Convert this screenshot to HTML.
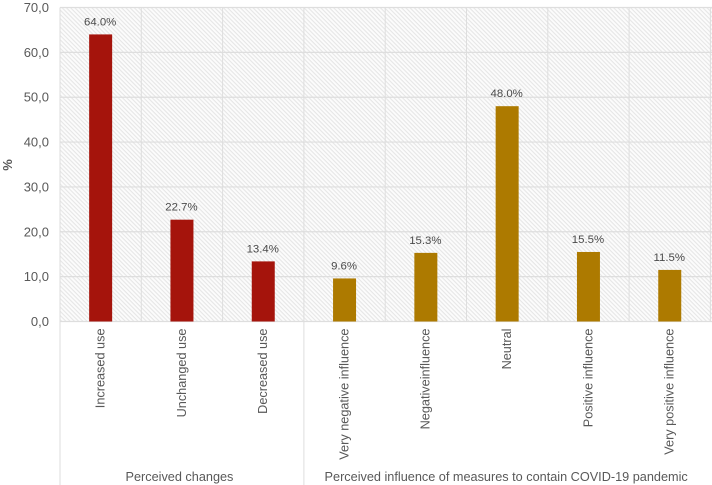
<!DOCTYPE html>
<html>
<head>
<meta charset="utf-8">
<style>
html,body{margin:0;padding:0;background:#fff;width:712px;height:485px;overflow:hidden}
svg{display:block}
text{font-family:"Liberation Sans",sans-serif;fill:#595959}
</style>
</head>
<body>
<svg id="chart" width="712" height="485" viewBox="0 0 712 485" xmlns="http://www.w3.org/2000/svg">
<defs>
<pattern id="hatch" patternUnits="userSpaceOnUse" width="3" height="3" patternTransform="rotate(45)">
<rect width="3" height="3" fill="#fcfcfc"/>
<rect width="3" height="1.1" fill="#e6e6e6"/>
</pattern>
</defs>
<rect x="60" y="7.5" width="652" height="314" fill="url(#hatch)"/>
<g id="grid"></g>
<g id="bars"></g>
<g id="labels"></g>
<g id="yticks"></g>
<g id="xticks"></g>
<g id="groups"></g>
<text transform="translate(12,165) rotate(-90)" text-anchor="middle" font-size="13" font-weight="bold">%</text>
</svg>
<script>
const categories = ["Increased use","Unchanged use","Decreased use","Very negative influence","Negativeinfluence","Neutral","Positive influence","Very positive influence"];
const values = [64.0,22.7,13.4,9.6,15.3,48.0,15.5,11.5];
const valueLabels = ["64.0%","22.7%","13.4%","9.6%","15.3%","48.0%","15.5%","11.5%"];
const groupOfCategory = [0,0,0,1,1,1,1,1];
const groupNames = ["Perceived changes","Perceived influence of measures to contain COVID-19 pandemic"];
const groupColors = ["#a5140c","#ad7a00"];
const yTicks = [0,10,20,30,40,50,60,70];
const yTickLabels = ["0,0","10,0","20,0","30,0","40,0","50,0","60,0","70,0"];

const NS = "http://www.w3.org/2000/svg";
const plotLeft = 60, plotRight = 710.4, plotTop = 7.5, plotBottom = 321.5, yMax = 70;
const bandW = (plotRight - plotLeft) / categories.length;
const barW = 23;
const xBand = i => plotLeft + i * bandW;
const xCenter = i => xBand(i) + bandW / 2;
const yScale = v => plotBottom - (v / yMax) * (plotBottom - plotTop);
function mk(tag, parent, attrs, text) {
  const el = document.createElementNS(NS, tag);
  for (const k in attrs) el.setAttribute(k, attrs[k]);
  if (text !== undefined) el.textContent = text;
  parent.appendChild(el);
  return el;
}
const grid = document.getElementById("grid");
const gridColor = "#dedede";
yTicks.forEach(t => {
  const line = mk("line", grid, {x1: plotLeft, x2: 712, y1: yScale(t), y2: yScale(t), stroke: gridColor, "stroke-width": 1.2});
  
  
});
for (let i = 0; i <= categories.length; i++) {
  const groupEdge = i === 0 || (i < categories.length && groupOfCategory[i] !== groupOfCategory[i - 1]);
  const line = mk("line", grid, {x1: xBand(i), x2: xBand(i), y1: plotTop, y2: groupEdge ? 485 : plotBottom, stroke: gridColor, "stroke-width": 1});
  
  
}
const bars = document.getElementById("bars");
const labels = document.getElementById("labels");
const xticks = document.getElementById("xticks");
categories.forEach((c, i) => {
  const bar = mk("rect", bars, {x: xCenter(i) - barW / 2, y: yScale(values[i]), width: barW, height: plotBottom - yScale(values[i]), fill: groupColors[groupOfCategory[i]]});
  
  
  const lab = mk("text", labels, {x: xCenter(i) - 0.5, y: yScale(values[i]) - 9, "text-anchor": "middle", "font-size": 11.4, style: "fill:#4a4a4a"}, valueLabels[i]);
  
  
});
categories.forEach((c, i) => {
  const cat = mk("text", xticks, {transform: "translate(" + (xCenter(i) + 3.8) + ",328.5) rotate(-90)", "text-anchor": "end", "font-size": 12.7}, c);
  
  
});
const yt = document.getElementById("yticks");
yTicks.forEach((t, i) => {
  const lab = mk("text", yt, {x: 49, y: yScale(t) + 4.5, "text-anchor": "end", "font-size": 13}, yTickLabels[i]);
  
  
});
const gs = document.getElementById("groups");
groupNames.forEach((g, gi) => {
  const idx = groupOfCategory.map((v, i) => v === gi ? i : -1).filter(i => i >= 0);
  const cx = (xBand(idx[0]) + xBand(idx[idx.length - 1] + 1)) / 2;
  const lab = mk("text", gs, {x: cx - (gi === 0 ? 2.5 : 1), y: 481, "text-anchor": "middle", "font-size": 12.7}, g);
  
  
});
</script>
</body>
</html>
